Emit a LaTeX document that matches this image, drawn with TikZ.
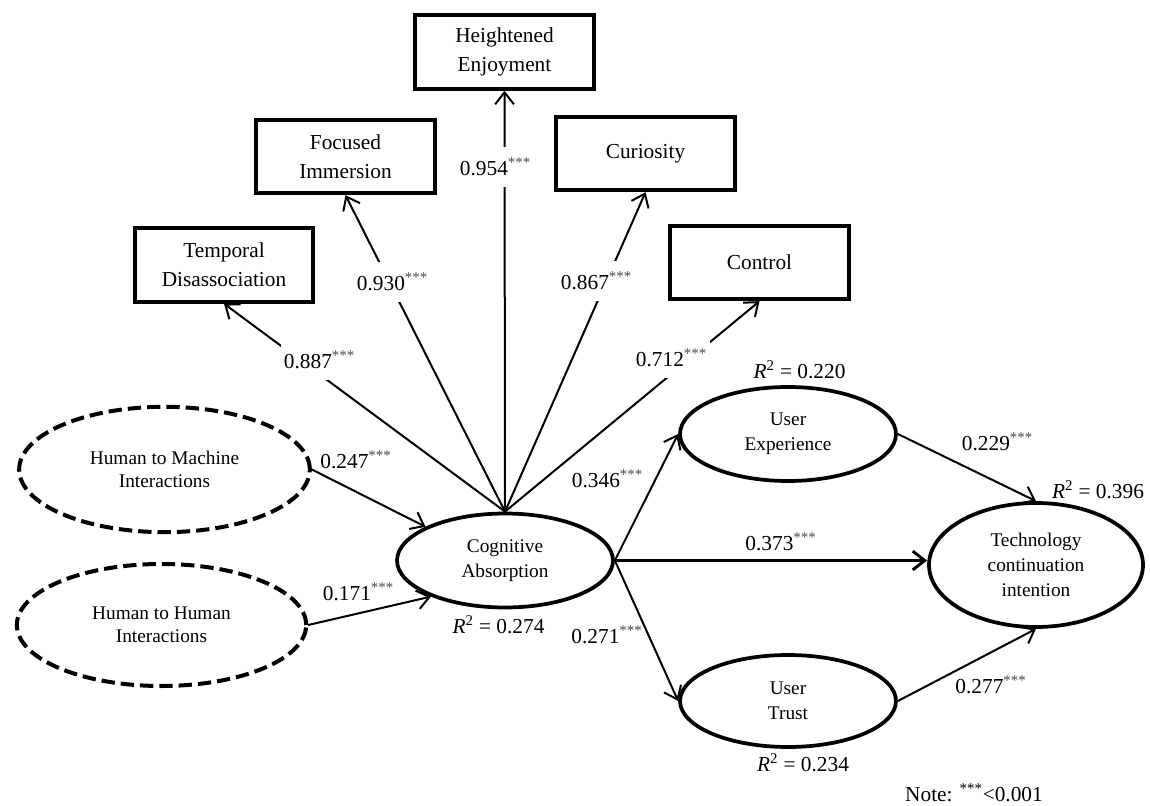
\documentclass[tikz,border=0pt]{standalone}
\usepackage{fontspec}
\setmainfont{Liberation Serif}
\usetikzlibrary{shapes.geometric,arrows.meta}
\newcommand{\sig}{\textsuperscript{\color{black!70}***}}
\begin{document}
\begin{tikzpicture}[x=0.75pt,y=-0.75pt,
  box/.style={draw,line width=3pt,rectangle,minimum width=134pt,minimum height=55pt,inner sep=0pt,align=center,font=\fontsize{16}{21.75}\selectfont},
  lat/.style={draw,line width=2.8pt,ellipse,inner sep=0pt,align=center,font=\fontsize{14.5}{18.75}\selectfont},
  exo/.style={lat,line width=3pt,dash pattern=on 10pt off 4.5pt,font=\fontsize{14.5}{17.5}\selectfont},
  conn/.style={line width=1.5pt,-{Straight Barb[length=9pt,width=14pt]}},
  ld/.style={fill=white,inner xsep=2pt,inner ysep=8pt,font=\fontsize{16}{19}\selectfont},
  pl/.style={inner sep=0pt,font=\fontsize{16}{19}\selectfont},
]
\fill[white] (0,0) rectangle (1150,806);
\useasboundingbox (0,0) rectangle (1150,806);

% indicator boxes
\node[box] (TD) at (224,265) {Temporal\\Disassociation};
\node[box] (FI) at (345.5,156.5) {Focused\\Immersion};
\node[box] (HE) at (504.5,52) {Heightened\\Enjoyment};
\node[box] (CU) at (645.5,153.5) {Curiosity};
\node[box] (CO) at (759.5,262.5) {Control};

% latent constructs
\node[lat,minimum width=162pt,minimum height=70.5pt] (CA) at (505,560.5) {Cognitive\\Absorption};
\node[lat,minimum width=162pt,minimum height=70.5pt] (UE) at (788,434) {User\\Experience};
\node[lat,minimum width=162pt,minimum height=69pt] (UT) at (788,701) {User\\Trust};
\node[lat,minimum width=160.5pt,minimum height=93pt] (TCI) at (1036,565) {Technology\\continuation\\intention};
\node[exo,minimum width=218pt,minimum height=94pt] (HMI) at (164.5,469.5) {Human to Machine\\Interactions};
\node[exo,minimum width=217pt,minimum height=91.5pt] (HHI) at (161.5,625) {Human to Human\\Interactions};

% loadings
\draw[conn] (CA.north) -- (TD.south);
\draw[conn] (CA.north) -- (FI.south);
\draw[conn] (CA.north) -- (HE.south);
\draw[conn] (CA.north) -- (CU.south);
\draw[conn] (CA.north) -- (CO.south);
\node[ld] (l1) at (319.5,360) {0.887\sig};
\node[ld] (l2) at (392.5,282) {0.930\sig};
\node[ld] (l3) at (495.5,167) {0.954\sig};
\node[ld] (l4) at (596.5,281) {0.867\sig};
\node[ld] (l5) at (671.5,358) {0.712\sig};

% structural paths
\draw[conn] (HMI.east) -- (CA.157);
\draw[conn] (HHI.east) -- (CA.206);
\draw[conn] (CA.east) -- (UE.west);
\draw[conn] (CA.east) -- (UT.west);
\draw[conn,line width=2.2pt] (CA.east) -- (CA.east -| TCI.west);
\draw[conn] (UE.east) -- (TCI.north);
\draw[conn] (UT.east) -- (TCI.south);

\node[pl] (p1) at (356,460) {0.247\sig};
\node[pl] (p2) at (358.5,592) {0.171\sig};
\node[pl] (p3) at (607.5,479) {0.346\sig};
\node[pl] (p4) at (607,635) {0.271\sig};
\node[pl] (p5) at (781,542) {0.373\sig};
\node[pl] (p6) at (997.5,442) {0.229\sig};
\node[pl] (p7) at (991,685) {0.277\sig};

% R squared
\node[pl] (r1) at (498.5,625) {\textit{R}\textsuperscript{2} = 0.274};
\node[pl] (r2) at (799.5,370) {\textit{R}\textsuperscript{2} = 0.220};
\node[pl] (r3) at (1098,490) {\textit{R}\textsuperscript{2} = 0.396};
\node[pl] (r4) at (803,763) {\textit{R}\textsuperscript{2} = 0.234};

\node[pl] (note) at (974,793) {Note: \textsuperscript{***}<0.001};
\end{tikzpicture}
\end{document}
